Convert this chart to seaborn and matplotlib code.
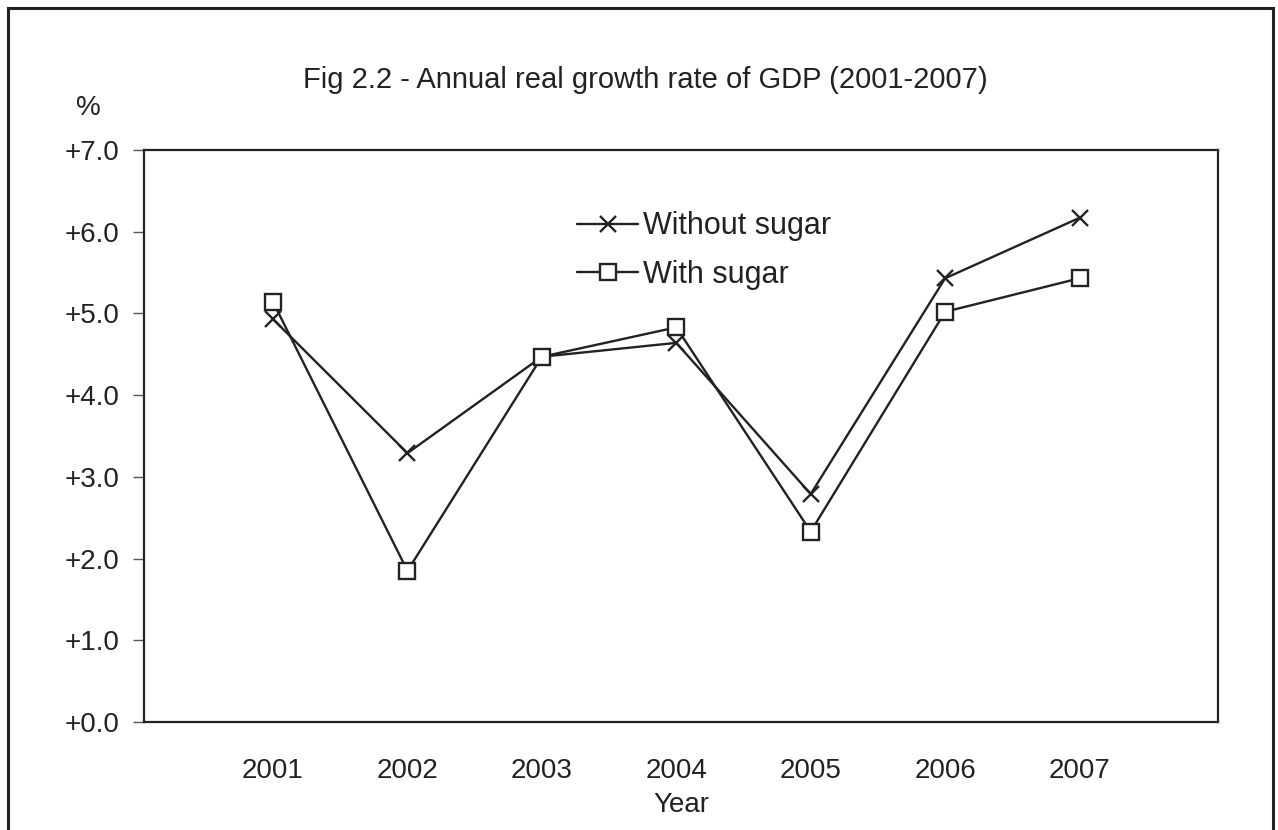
import matplotlib
matplotlib.use("Agg")
import matplotlib.pyplot as plt
import seaborn as sns
import pandas as pd
from matplotlib.patches import Rectangle

years = ["2001", "2002", "2003", "2004", "2005", "2006", "2007"]
without_sugar = [4.93, 3.29, 4.47, 4.64, 2.79, 5.43, 6.17]
with_sugar = [5.14, 1.85, 4.47, 4.83, 2.33, 5.02, 5.43]
y_ticks = [0, 1, 2, 3, 4, 5, 6, 7]

sns.set_theme(style="white")
plt.rcParams['font.family'] = ['Liberation Sans', 'DejaVu Sans']

df = pd.DataFrame({
    "pos": list(range(len(years))) * 2,
    "value": without_sugar + with_sugar,
    "series": ["Without sugar"] * len(years) + ["With sugar"] * len(years),
})

fig = plt.figure(figsize=(12.78, 8.30), dpi=100)
ax = fig.add_axes([144/1278, 1-722/830, (1218-144)/1278, (722-150)/830])

d1 = df[df.series == "Without sugar"]
d2 = df[df.series == "With sugar"]
sns.lineplot(data=d1, x="pos", y="value", ax=ax, color="#222222", lw=1.7,
             marker="x", markersize=12, markeredgewidth=1.7, markeredgecolor="#222222",
             label="Without sugar")
sns.lineplot(data=d2, x="pos", y="value", ax=ax, color="#222222", lw=1.7,
             marker="s", markersize=12, markerfacecolor="white", markeredgewidth=1.7,
             markeredgecolor="#222222", label="With sugar")

ax.set_xlim(-0.96, 7.03)
ax.set_ylim(0, 7)
ax.set_xticks(range(len(years)))
ax.set_xticklabels(years, fontsize=20, color="#222222")
ax.set_yticks(y_ticks)
ax.set_yticklabels([f"+{v:.1f}" for v in y_ticks], fontsize=20, color="#222222")
ax.tick_params(axis="x", length=0, pad=26)
ax.tick_params(axis="y", left=True, length=8, width=1, color="#555555", pad=10)
ax.set_xlabel("Year", fontsize=20, color="#222222", labelpad=6)
ax.set_ylabel("")
for s in ax.spines.values():
    s.set_color("#222222")
    s.set_linewidth(1.6)

leg = ax.legend(loc="upper left", bbox_to_anchor=((562-144)/1074, (722-196)/572),
                frameon=False, fontsize=22, handlelength=2.0, handletextpad=0.15,
                labelspacing=0.6, labelcolor="#222222", borderpad=0)

fig.text(645/1278, 1-80/830, "Fig 2.2 - Annual real growth rate of GDP (2001-2007)",
         ha="center", va="center", fontsize=21, color="#222222")
fig.text(88/1278, 1-108/830, "%", ha="center", va="center", fontsize=20, color="#222222")

fig.patches.append(Rectangle((8/1278, -0.05), (1273-8)/1278, 1.05-8/830,
                             transform=fig.transFigure, fill=False,
                             edgecolor="#222222", linewidth=2.2))

fig.savefig("out.png", dpi=100)
